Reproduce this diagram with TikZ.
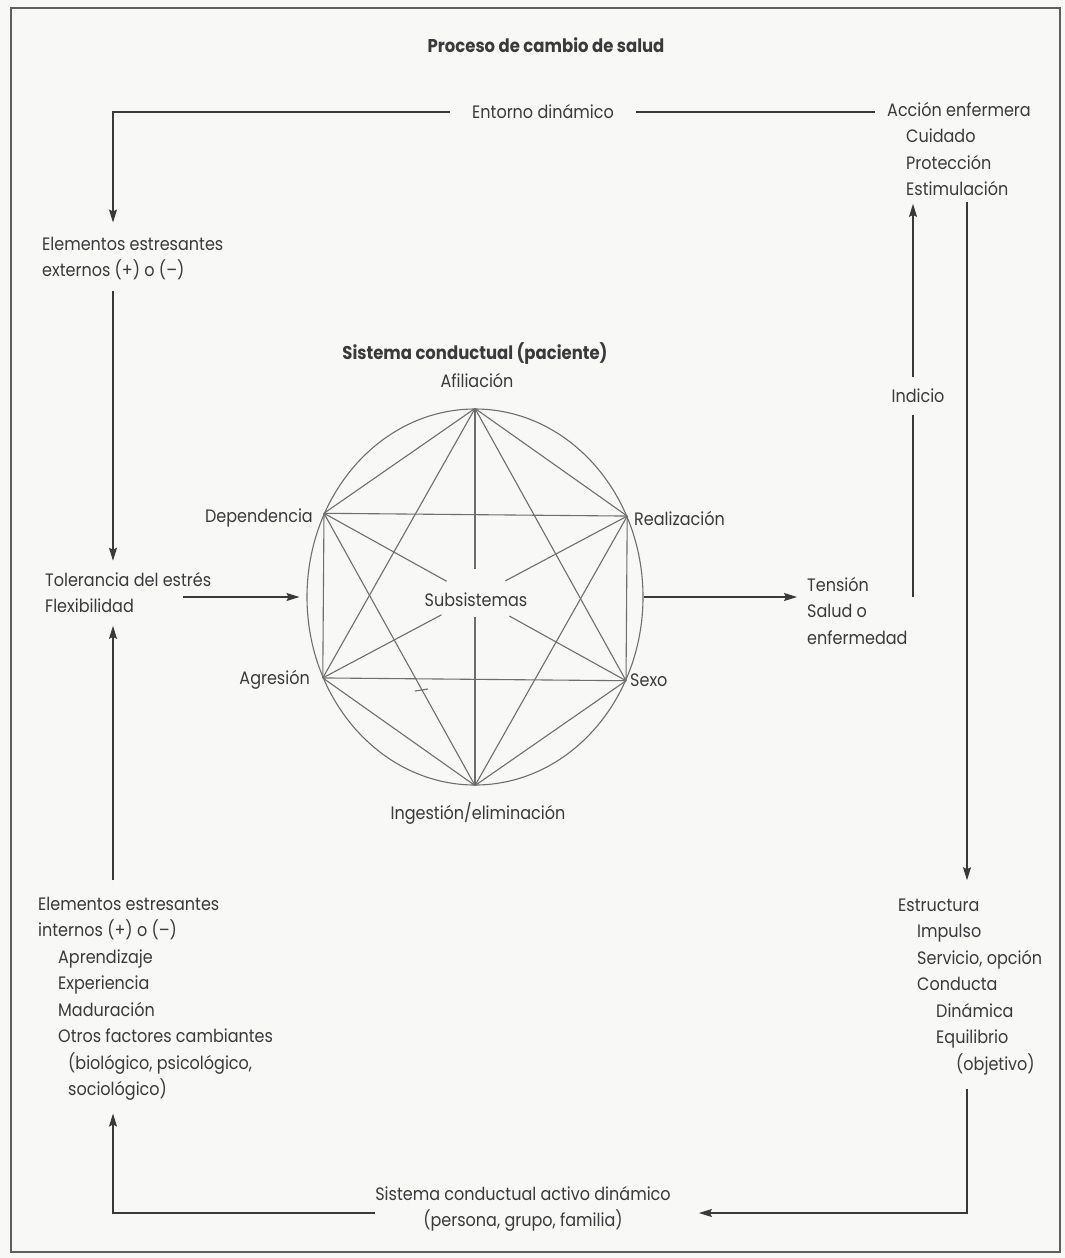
\documentclass[tikz,border=0pt]{standalone}
\usepackage{fontspec}
\setmainfont{Poppins}[FakeStretch=0.89]
\usetikzlibrary{shapes.geometric,arrows.meta,calc}
\definecolor{ink}{RGB}{58,58,58}
\definecolor{paper}{RGB}{248,248,246}
\definecolor{hexc}{RGB}{110,110,110}
\definecolor{framec}{RGB}{95,95,95}
\tikzset{
  txt/.style={inner sep=0pt, text=ink, font=\fontsize{18}{26.5}\selectfont},
  bold/.style={txt, font=\fontsize{18.5}{26.5}\selectfont\bfseries},
  blk/.style={txt, align=left, anchor=base west},
  conn/.style={draw=ink, line width=1.2pt},
  arr/.style={conn, -{Stealth[length=13pt,width=8pt,inset=2pt]}},
  hexl/.style={draw=hexc, line width=1.1pt},
}
\begin{document}
\begin{tikzpicture}[x=1pt,y=-1pt]
\fill[paper] (0,0) rectangle (1065,1258);
\useasboundingbox (0,0) rectangle (1065,1258);
\draw[framec, line width=1.6pt] (11,8) rectangle (1060,1252);

% columns / rows
\coordinate (L) at (113,0);
\coordinate (R) at (967,0);
\coordinate (M) at (913,0);
\coordinate (B) at (0,1213);

% texts (multi-line blocks are placed by the baseline of their last line)
\node[bold] (title) at (546,45) {Proceso de cambio de salud};
\node[txt, inner xsep=22pt] (ent) at (543,112) {Entorno dinámico};
\node[blk] (acc) at (887,195.5) {Acción enfermera\\\hspace*{19pt}Cuidado\\\hspace*{19pt}Protección\\\hspace*{19pt}Estimulación};
\node[blk] (ext) at (42,276.5) {Elementos estresantes\\externos (+) o (–)};
\node[blk] (tol) at (45,612.5) {Tolerancia del estrés\\Flexibilidad};
\node[blk] (int) at (38,1095.5) {Elementos estresantes\\internos (+) o (–)\\\hspace*{20pt}Aprendizaje\\\hspace*{20pt}Experiencia\\\hspace*{20pt}Maduración\\\hspace*{20pt}Otros factores cambiantes\\\hspace*{30pt}(biológico, psicológico,\\\hspace*{30pt}sociológico)};
\node[blk] (est) at (898,1070) {Estructura\\\hspace*{19pt}Impulso\\\hspace*{19pt}Servicio, opción\\\hspace*{19pt}Conducta\\\hspace*{38pt}Dinámica\\\hspace*{38pt}Equilibrio\\\hspace*{58pt}(objetivo)};
\node[blk] (ten) at (807,644) {Tensión\\Salud o\\enfermedad};
\node[txt, align=center, anchor=base] (sca) at (523,1226.5) {Sistema conductual activo dinámico\\(persona, grupo, familia)};
\node[txt, inner ysep=12pt] (ind) at (918,396) {Indicio};

% central system
\node[draw=hexc, line width=1.1pt, ellipse, minimum width=336pt, minimum height=376pt, inner sep=0pt] (sys) at (475,597) {};
\coordinate (vA) at (sys.north);
\coordinate (vI) at (sys.south);
\coordinate (vR) at (sys.28.4);
\coordinate (vD) at (sys.151.6);
\coordinate (vG) at (sys.208.4);
\coordinate (vS) at (sys.331.6);

\foreach \a/\b in {vA/vD, vA/vR, vD/vG, vR/vS, vG/vI, vS/vI, vD/vR, vG/vS, vA/vG, vA/vS, vD/vI, vR/vI}
  \draw[hexl] (\a) -- (\b);
\draw[hexl] (vA) -- ($(vA)!0.427!(vI)$) ($(vA)!0.552!(vI)$) -- (vI);
\draw[hexl] (vD) -- ($(vD)!0.406!(vS)$) ($(vD)!0.614!(vS)$) -- (vS);
\draw[hexl] (vR) -- ($(vR)!0.40!(vG)$) ($(vR)!0.61!(vG)$) -- (vG);
\draw[hexl] (415,691) -- (428,689);

\node[bold] (sysl) at (475,354) {Sistema conductual (paciente)};
\node[txt] (afi) at (477,380) {Afiliación};
\node[txt, anchor=east] (dep) at (313,518) {Dependencia};
\node[txt, anchor=west] (rea) at (634,518) {Realización};
\node[txt, anchor=east] (agr) at (310,680) {Agresión};
\node[txt, anchor=west] (sex) at (630,680) {Sexo};
\node[txt] (ing) at (478,813) {Ingestión/eliminación};
\node[txt] (sub) at (476,600) {Subsistemas};

% connectors
\draw[conn, shorten >=12pt] (ent.east) -- (ent.east -| acc.west);
\draw[arr, shorten >=14pt] (ent.west) -| (L |- ext.north);
\draw[arr, shorten <=11pt, shorten >=11pt] (L |- ext.south) -- (L |- tol.north);
\draw[arr, shorten <=16pt, shorten >=13pt] (L |- int.north) -- (L |- tol.south);
\draw[arr, shorten >=13pt] (sca.west |- B) -| (L |- int.south);
\draw[arr, shorten <=14pt, shorten >=28pt] (R |- est.south) |- (sca.east |- B);
\draw[arr, shorten <=6pt, shorten >=18pt] (R |- acc.south) -- (R |- est.north);
\draw[arr, shorten <=-28pt, shorten >=7pt] (tol.east |- sys.west) -- (sys.west);
\draw[arr, shorten >=10pt] (sys.east) -- (ten.west |- sys.east);
\draw[conn] (M |- sys.east) -- (ind.south -| M);
\draw[arr, shorten >=8pt] (ind.north -| M) -- (M |- acc.south);
\end{tikzpicture}
\end{document}
